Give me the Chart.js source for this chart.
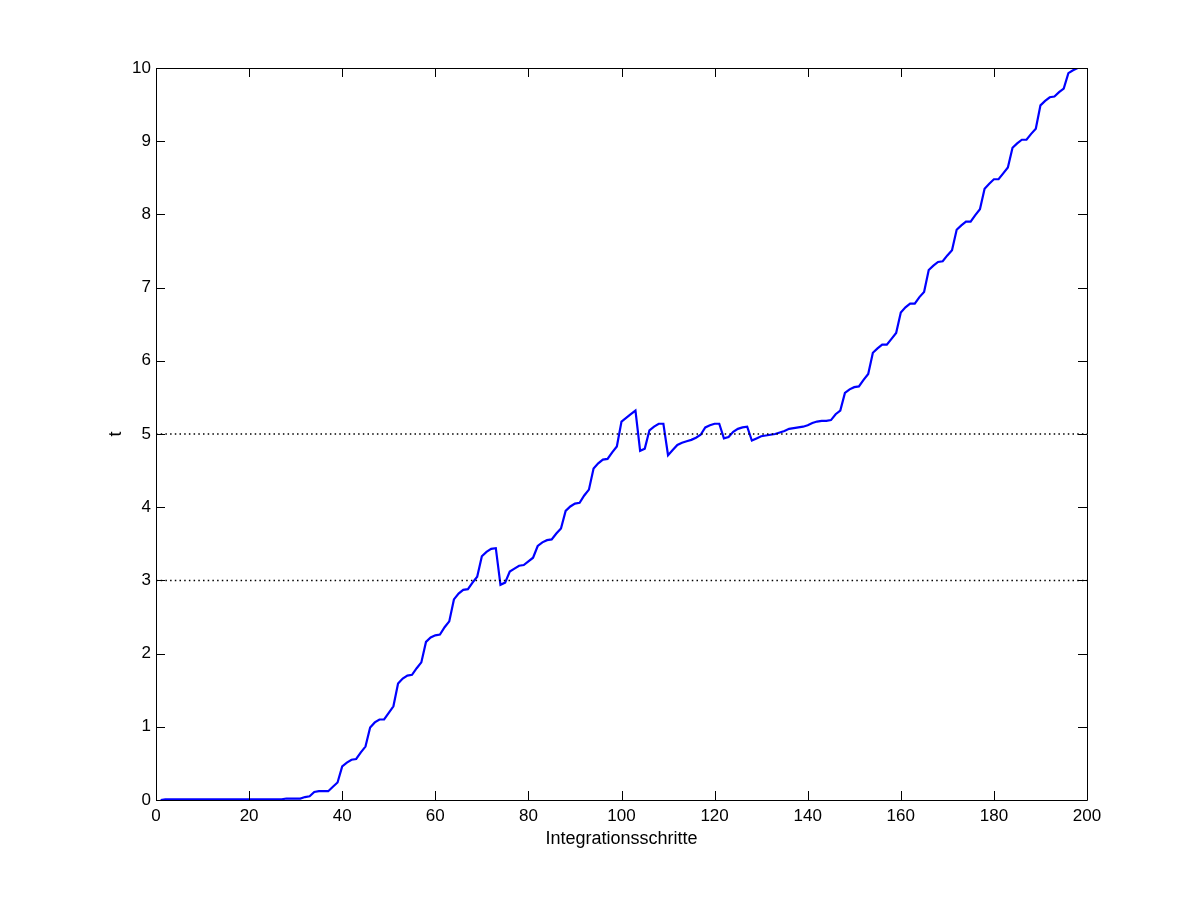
<!DOCTYPE html>
<html>
<head>
<meta charset="utf-8">
<script src="https://cdn.jsdelivr.net/npm/chart.js@4.4.1/dist/chart.umd.min.js"></script>
<style>
  body { margin: 0; background: #fff; }
  canvas { display: block; }
</style>
</head>
<body>
<canvas id="myChart" width="1201" height="900"></canvas>
<script>
// t per integration step (step 1 .. 198)
const tValues = [
  0.00, 0.01, 0.01, 0.01, 0.01, 0.01, 0.01, 0.01, 0.01, 0.01,
  0.01, 0.01, 0.01, 0.01, 0.01, 0.01, 0.01, 0.01, 0.01, 0.01,
  0.01, 0.01, 0.01, 0.01, 0.01, 0.01, 0.01, 0.02, 0.02, 0.02,
  0.02, 0.04, 0.05, 0.11, 0.12, 0.12, 0.12, 0.18, 0.24, 0.46,
  0.51, 0.55, 0.56, 0.65, 0.73, 0.99, 1.06, 1.10, 1.10, 1.19,
  1.28, 1.59, 1.66, 1.70, 1.71, 1.80, 1.88, 2.16, 2.22, 2.25,
  2.26, 2.36, 2.44, 2.74, 2.82, 2.87, 2.88, 2.97, 3.05, 3.33,
  3.39, 3.43, 3.44, 2.94, 2.97, 3.12, 3.16, 3.20, 3.21, 3.26,
  3.31, 3.47, 3.52, 3.55, 3.56, 3.64, 3.71, 3.95, 4.01, 4.05,
  4.06, 4.16, 4.24, 4.53, 4.60, 4.65, 4.66, 4.75, 4.83, 5.17,
  5.22, 5.27, 5.32, 4.77, 4.80, 5.05, 5.10, 5.14, 5.14, 4.71,
  4.78, 4.85, 4.88, 4.90, 4.92, 4.95, 4.99, 5.09, 5.12, 5.14,
  5.14, 4.94, 4.96, 5.03, 5.07, 5.09, 5.10, 4.91, 4.94, 4.97,
  4.98, 4.99, 5.00, 5.02, 5.04, 5.07, 5.08, 5.09, 5.10, 5.12,
  5.15, 5.17, 5.18, 5.18, 5.19, 5.27, 5.32, 5.56, 5.61, 5.64,
  5.65, 5.74, 5.82, 6.11, 6.17, 6.22, 6.22, 6.30, 6.38, 6.66,
  6.73, 6.78, 6.78, 6.87, 6.94, 7.24, 7.30, 7.35, 7.36, 7.44,
  7.51, 7.79, 7.85, 7.90, 7.90, 7.99, 8.07, 8.35, 8.42, 8.48,
  8.48, 8.56, 8.64, 8.91, 8.97, 9.02, 9.02, 9.10, 9.17, 9.49,
  9.55, 9.60, 9.61, 9.67, 9.72, 9.93, 9.97, 10.00
];
const steps = tValues.map((v, i) => i + 1);

// dotted reference levels
const refLevels = [3, 5];
const xRange = [0, 200];
const yRange = [0, 10];
const xStep = 20;
const yStep = 1;

const FONT = "'Liberation Sans', Arial, Helvetica, sans-serif";

const boxTicks = {
  id: "boxTicks",
  afterDraw(chart) {
    const { ctx, chartArea: a, scales } = chart;
    const len = 9;
    ctx.save();
    ctx.strokeStyle = "#000";
    ctx.lineWidth = 1;
    ctx.beginPath();
    ctx.rect(Math.round(a.left) + 0.5, Math.round(a.top) + 0.5,
      Math.round(a.right - a.left), Math.round(a.bottom - a.top));
    scales.x.ticks.forEach((t) => {
      const px = Math.round(scales.x.getPixelForValue(t.value)) + 0.5;
      ctx.moveTo(px, a.bottom); ctx.lineTo(px, a.bottom - len);
      ctx.moveTo(px, a.top); ctx.lineTo(px, a.top + len);
    });
    scales.y.ticks.forEach((t) => {
      const py = Math.round(scales.y.getPixelForValue(t.value)) + 0.5;
      ctx.moveTo(a.left, py); ctx.lineTo(a.left + len, py);
      ctx.moveTo(a.right, py); ctx.lineTo(a.right - len, py);
    });
    ctx.stroke();
    ctx.restore();
  },
};

const refSets = refLevels.map((lv) => ({
  data: xRange.map((x) => ({ x: x, y: lv })),
  borderColor: "#000",
  borderWidth: 1.5,
  borderDash: [1.5, 3.2],
  pointRadius: 0,
  fill: false,
}));

const config = {
  type: "line",
  data: {
    datasets: [
      ...refSets,
      {
        data: steps.map((s, i) => ({ x: s, y: tValues[i] })),
        borderColor: "rgb(0, 0, 255)",
        borderWidth: 2.2,
        pointRadius: 0,
        tension: 0,
        fill: false,
      },
    ],
  },
  options: {
    responsive: false,
    devicePixelRatio: 1,
    animation: false,
    layout: { padding: { left: 100, top: 68, right: 114, bottom: 50 } },
    plugins: { legend: { display: false }, tooltip: { enabled: false } },
    scales: {
      x: {
        type: "linear",
        min: xRange[0],
        max: xRange[1],
        afterFit: (s) => { s.height = 50; },
        grid: { display: false, drawTicks: false },
        border: { display: false },
        ticks: { stepSize: xStep, color: "#000", padding: 6, maxRotation: 0, font: { family: FONT, size: 17 } },
        title: { display: true, text: "Integrationsschritte", color: "#000", padding: { top: 0, bottom: 0 }, font: { family: FONT, size: 18 } },
      },
      y: {
        min: yRange[0],
        max: yRange[1],
        afterFit: (s) => { s.width = 56; },
        grid: { display: false, drawTicks: false },
        border: { display: false },
        ticks: { stepSize: yStep, color: "#000", padding: 5, font: { family: FONT, size: 17 } },
        title: { display: true, text: "t", color: "#000", padding: { top: 5, bottom: 0 }, font: { family: FONT, size: 18 } },
      },
    },
  },
  plugins: [boxTicks],
};

const ctx = document.getElementById("myChart");
const myChart = new Chart(ctx.getContext("2d"), config);
</script>
</body>
</html>
